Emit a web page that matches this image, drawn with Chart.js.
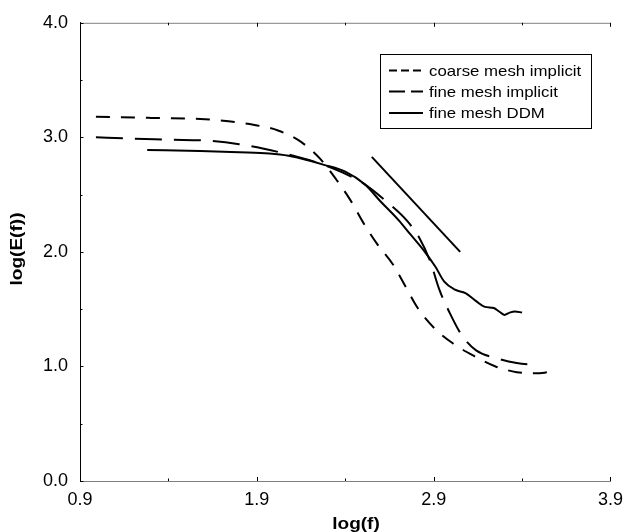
<!DOCTYPE html>
<html>
<head>
<meta charset="utf-8">
<script src="https://cdn.jsdelivr.net/npm/chart.js@4"></script>
<style>
html, body { margin: 0; padding: 0; background: #fff; }
</style>
</head>
<body>
<canvas id="spectrumChart" width="631" height="532"></canvas>
<script>
// axis ticks
const xTicks = [0.9, 1.9, 2.9, 3.9];
const yTicks = [0.0, 1.0, 2.0, 3.0, 4.0];
const seriesNames = ['coarse mesh implicit', 'fine mesh implicit', 'fine mesh DDM'];

// coarse mesh implicit
const coarseX = [0.99, 1.30, 1.58, 1.74, 1.88, 2.02, 2.15, 2.26, 2.35, 2.43, 2.50, 2.58, 2.67, 2.74, 2.81, 2.90, 3.01, 3.13, 3.25, 3.37, 3.48, 3.55];
const coarseY = [3.18, 3.17, 3.16, 3.14, 3.11, 3.06, 2.96, 2.81, 2.63, 2.45, 2.26, 2.07, 1.89, 1.70, 1.51, 1.34, 1.20, 1.09, 1.00, 0.95, 0.94, 0.95];

// fine mesh implicit
const fineX = [0.99, 1.18, 1.41, 1.63, 1.80, 1.94, 2.08, 2.22, 2.36, 2.50, 2.64, 2.75, 2.82, 2.88, 2.93, 2.99, 3.06, 3.14, 3.26, 3.37, 3.49];
const fineY = [3.00, 2.99, 2.98, 2.97, 2.94, 2.90, 2.85, 2.79, 2.71, 2.60, 2.43, 2.27, 2.12, 1.92, 1.68, 1.47, 1.27, 1.14, 1.07, 1.03, 1.01];

// fine mesh DDM
const ddmX = [1.28, 1.58, 1.80, 1.97, 2.08, 2.19, 2.28, 2.40, 2.51, 2.60, 2.70, 2.77, 2.85, 2.91, 2.96, 3.02, 3.08, 3.14, 3.19, 3.24, 3.27, 3.30, 3.33, 3.36, 3.40];
const ddmY = [2.89, 2.88, 2.87, 2.86, 2.84, 2.80, 2.76, 2.70, 2.59, 2.44, 2.28, 2.15, 2.00, 1.87, 1.74, 1.67, 1.64, 1.57, 1.52, 1.51, 1.48, 1.45, 1.47, 1.48, 1.47];

// -5/3 reference slope
const slopeX = [2.55, 3.05];
const slopeY = [2.83, 2.00];

const FONT = "'Liberation Sans', Arial, Helvetica, sans-serif";

function pts(xs, ys) {
    return xs.map((x, i) => ({ x: x, y: ys[i] }));
}

const axisDecor = {
    id: 'axisDecor',
    afterDraw(chart) {
        const ctx = chart.ctx;
        const a = chart.chartArea;
        const xs = chart.scales.x;
        const ys = chart.scales.y;
        ctx.save();

        // top frame line
        ctx.strokeStyle = '#808080';
        ctx.lineWidth = 1;
        ctx.beginPath();
        ctx.moveTo(a.left, a.top + 0.5);
        ctx.lineTo(a.right, a.top + 0.5);
        ctx.stroke();

        // inward ticks, major + half steps
        ctx.strokeStyle = '#000';
        for (let i = 0; i < xTicks.length; i++) {
            const vals = [xTicks[i]];
            if (i < xTicks.length - 1) vals.push((xTicks[i] + xTicks[i + 1]) / 2);
            vals.forEach((v, k) => {
                const px = Math.round(xs.getPixelForValue(v)) + 0.5;
                const len = k === 0 ? 4 : 2.5;
                ctx.beginPath();
                ctx.moveTo(px, a.bottom);
                ctx.lineTo(px, a.bottom - len);
                ctx.moveTo(px, a.top);
                ctx.lineTo(px, a.top + len);
                ctx.stroke();
            });
        }
        for (let i = 0; i < yTicks.length; i++) {
            const vals = [yTicks[i]];
            if (i < yTicks.length - 1) vals.push((yTicks[i] + yTicks[i + 1]) / 2);
            vals.forEach((v, k) => {
                const py = Math.round(ys.getPixelForValue(v)) + 0.5;
                const len = k === 0 ? 3.5 : 2.5;
                ctx.beginPath();
                ctx.moveTo(a.left, py);
                ctx.lineTo(a.left + len, py);
                ctx.stroke();
            });
        }

        // axis titles (slightly wide type, as in the original)
        ctx.fillStyle = '#000';
        ctx.font = 'bold 17px ' + FONT;
        ctx.textAlign = 'center';
        ctx.textBaseline = 'alphabetic';
        ctx.save();
        ctx.translate(356, 529);
        ctx.scale(1.12, 1);
        ctx.fillText('log(f)', 0, 0);
        ctx.restore();

        ctx.save();
        ctx.translate(22, 249);
        ctx.rotate(-Math.PI / 2);
        ctx.scale(1.12, 1);
        ctx.fillText('log(E(f))', 0, 0);
        ctx.restore();

        // legend box
        const bx = 380.5, by = 54.5, bw = 211, bh = 74;
        ctx.fillStyle = '#fff';
        ctx.fillRect(bx, by, bw, bh);
        ctx.strokeStyle = '#000';
        ctx.lineWidth = 1;
        ctx.strokeRect(bx, by, bw, bh);

        const rows = [70.5, 91.5, 113];
        const sampleDash = [[8, 4], [16, 6], []];
        ctx.font = '15px ' + FONT;
        ctx.textAlign = 'left';
        ctx.textBaseline = 'middle';
        seriesNames.forEach((name, i) => {
            ctx.lineWidth = 2;
            ctx.setLineDash(sampleDash[i]);
            ctx.beginPath();
            ctx.moveTo(389, rows[i]);
            ctx.lineTo(423, rows[i]);
            ctx.stroke();
            ctx.setLineDash([]);
            ctx.save();
            ctx.translate(429, rows[i] + 1);
            ctx.scale(1.12, 1);
            ctx.fillStyle = '#000';
            ctx.fillText(name, 0, 0);
            ctx.restore();
        });

        ctx.restore();
    }
};

const lineStyle = {
    showLine: true,
    pointRadius: 0,
    borderColor: '#000',
    borderWidth: 2,
    fill: false,
    cubicInterpolationMode: 'monotone'
};

new Chart(document.getElementById('spectrumChart'), {
    type: 'scatter',
    data: {
        datasets: [
            { ...lineStyle, label: seriesNames[0], data: pts(coarseX, coarseY), borderDash: [14, 11] },
            { ...lineStyle, label: seriesNames[1], data: pts(fineX, fineY), borderDash: [27, 12] },
            { ...lineStyle, label: seriesNames[2], data: pts(ddmX, ddmY) },
            { ...lineStyle, label: 'slope', data: pts(slopeX, slopeY), cubicInterpolationMode: 'default' }
        ]
    },
    options: {
        responsive: false,
        animation: false,
        devicePixelRatio: 1,
        layout: { padding: { top: 20, right: 16, left: 0, bottom: 0 } },
        plugins: {
            legend: { display: false },
            tooltip: { enabled: false }
        },
        scales: {
            x: {
                type: 'linear',
                min: 0.9,
                max: 3.9,
                afterBuildTicks: s => { s.ticks = xTicks.map(v => ({ value: v })); },
                afterFit: s => { s.height = 51; },
                grid: { display: false, drawTicks: false },
                border: { color: '#808080', width: 1 },
                ticks: {
                    padding: 8,
                    color: '#000',
                    font: { family: FONT, size: 18 },
                    callback: v => v.toFixed(1)
                }
            },
            y: {
                type: 'linear',
                min: 0,
                max: 4,
                afterBuildTicks: s => { s.ticks = yTicks.map(v => ({ value: v })); },
                afterFit: s => { s.width = 80; },
                grid: { display: false, drawTicks: false },
                border: { color: '#000', width: 1 },
                ticks: {
                    padding: 12,
                    color: '#000',
                    font: { family: FONT, size: 18 },
                    callback: v => v.toFixed(1)
                }
            }
        }
    },
    plugins: [axisDecor]
});
</script>
</body>
</html>
